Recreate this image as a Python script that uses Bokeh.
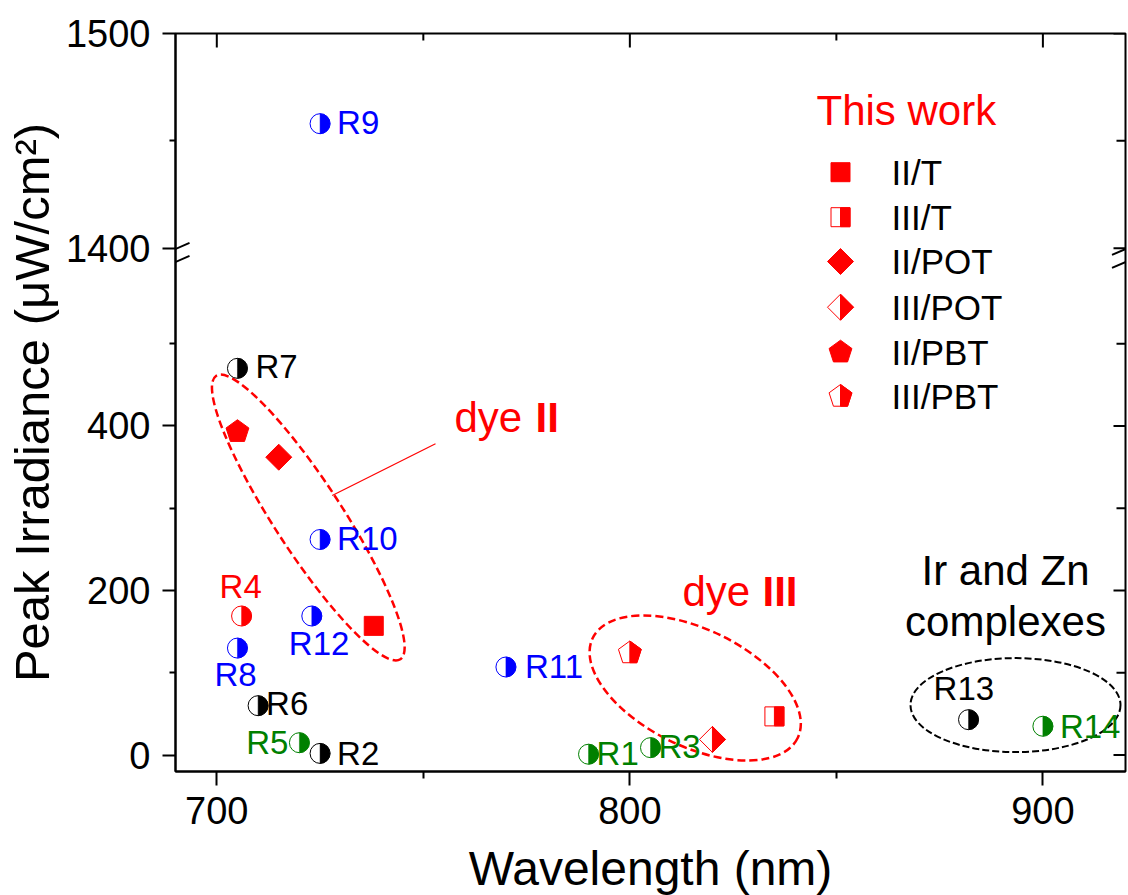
import math
from bokeh.plotting import figure
from bokeh.models import ColumnDataSource, FixedTicker, Range1d, Arrow
from bokeh.core.properties import value
from bokeh.embed import file_html
from bokeh.resources import INLINE

# ---------------- data ----------------
ref_labels = ["R1", "R2", "R3", "R4", "R5", "R6", "R7", "R8", "R9", "R10", "R11", "R12", "R13", "R14"]
ref_wavelength = [790, 725, 805, 706, 720, 710, 705, 705, 725, 725, 770, 723, 882, 900]
ref_irradiance = [1, 2, 9, 169, 15, 60, 470, 130, 1458, 262, 107, 169, 43, 35]
ref_colors = ["#008000", "#000000", "#008000", "#FF0000", "#008000", "#000000", "#000000",
              "#0000FF", "#0000FF", "#0000FF", "#0000FF", "#0000FF", "#000000", "#008000"]

work_labels = ["II/T", "III/T", "II/POT", "III/POT", "II/PBT", "III/PBT"]
work_wavelength = [738, 835, 715, 820, 705, 800]
work_irradiance = [157, 47, 362, 19, 393, 124]
work_shapes = ["square", "square", "diamond", "diamond", "pentagon", "pentagon"]
work_half = [False, True, False, True, False, True]

x_major_ticks = [700, 800, 900]
x_minor_ticks = [750, 850]
y_major_ticks = [0, 200, 400, 1400, 1500]
y_minor_ticks = [100, 300, 500, 1450]

# ---------------- layout constants ----------------
FONT = "Liberation Sans"
RED = "#FF0000"
X_START, X_END = 690, 920
BREAK_VALUE, BREAK_POS, UPPER_SCALE = 1400, 616, 2.61
FRAME_W, FRAME_H = 950, 738
FRAME_LEFT, FRAME_TOP = 175, 33  # position of the frame in the picture (px)
BASE_SHIFT = 0.36  # text baseline correction, in em


def yb(v):
    """broken-axis mapping: upper segment 1400..1500 is compressed above BREAK_POS"""
    if v < BREAK_VALUE:
        return v
    r = round(BREAK_POS + (v - BREAK_VALUE) * UPPER_SCALE, 3)
    return int(r) if r == int(r) else r


Y_START, Y_END = -20, yb(1500)
PXX = FRAME_W / (X_END - X_START)
PXY = FRAME_H / (Y_END - Y_START)


def px_x(px):
    return X_START + (px - FRAME_LEFT) / PXX


def px_y(py):
    return Y_END - (py - FRAME_TOP) / PXY


p = figure(frame_width=FRAME_W, frame_height=FRAME_H,
           x_range=Range1d(X_START, X_END), y_range=Range1d(Y_START, Y_END),
           output_backend="svg", toolbar_location=None,
           min_border_left=FRAME_LEFT, min_border_top=FRAME_TOP,
           min_border_right=3, min_border_bottom=124)
p.outline_line_color = "black"
p.outline_line_width = 2
p.xgrid.visible = False
p.ygrid.visible = False
p.background_fill_color = "white"
p.border_fill_color = "white"

xt = FixedTicker(ticks=x_major_ticks, minor_ticks=x_minor_ticks)
yt = FixedTicker(ticks=[yb(v) for v in y_major_ticks], minor_ticks=[yb(v) for v in y_minor_ticks])


def style_axis(ax):
    ax.axis_line_width = 2
    ax.axis_line_color = "black"
    ax.major_tick_line_width = 2
    ax.minor_tick_line_width = 2
    ax.major_tick_line_color = "black"
    ax.minor_tick_line_color = "black"
    ax.major_label_text_font = FONT
    ax.major_label_text_font_size = "38px"
    ax.major_label_text_color = "black"
    ax.axis_label_text_font = FONT
    ax.axis_label_text_font_size = "48px"
    ax.axis_label_text_font_style = "normal"
    ax.axis_label_text_color = "black"


xa = p.xaxis[0]
xa.ticker = xt
style_axis(xa)
xa.major_tick_out, xa.major_tick_in = 14, 0
xa.minor_tick_out, xa.minor_tick_in = 7, 0
xa.major_label_standoff = 11
xa.axis_label = "Wavelength (nm)"
xa.axis_label_standoff = 15

ya = p.yaxis[0]
ya.ticker = yt
style_axis(ya)
ya.axis_label_text_font_size = "49px"
ya.major_tick_out, ya.major_tick_in = 13, 0
ya.minor_tick_out, ya.minor_tick_in = 6, 0
ya.major_label_standoff = 12
ya.major_label_overrides = {yb(v): str(v) for v in y_major_ticks}
ya.axis_label = "Peak Irradiance (\u03bcW/cm\u00b2)"
ya.axis_label_standoff = 4

# mirrored inward ticks on the top and right frame edges
top_major = [(t, 14) for t in x_major_ticks] + [(t, 7) for t in x_minor_ticks]
p.segment(x0=[t for t, _ in top_major], y0=[Y_END] * len(top_major),
          x1=[t for t, _ in top_major], y1=[Y_END - L / PXY for _, L in top_major],
          line_color="black", line_width=2)
right_ticks = [(yb(v), 12) for v in y_major_ticks] + [(yb(v), 9) for v in y_minor_ticks]
p.segment(x0=[X_END] * len(right_ticks), y0=[t for t, _ in right_ticks],
          x1=[X_END - L / PXX for _, L in right_ticks], y1=[t for t, _ in right_ticks],
          line_color="black", line_width=2)

# ---------------- axis break marks ----------------
for ax_px in (FRAME_LEFT, FRAME_LEFT + FRAME_W):
    for cy in (248.5, 261.5):
        p.add_layout(Arrow(end=None, x_start=px_x(ax_px - 13.5), y_start=px_y(cy + 5.9),
                           x_end=px_x(ax_px + 14), y_end=px_y(cy - 6.1),
                           line_color="black", line_width=2))

# ---------------- annotations: ellipses, leader ----------------
ell_cx = [307.8, 694.7, 1015]
ell_cy = [517, 687.5, 704.6]
ell_w = [338, 228, 210]
ell_h = [68, 117, 94]
ell_ang = [-57, -26, 0]
ell_col = [RED, RED, "black"]
ell_dash = ["8 4", "8 4", "7 3"]
ell_lw = [2.5, 2.5, 2]
for i in range(3):
    p.ellipse(x=px_x(ell_cx[i]), y=px_y(ell_cy[i]), width=ell_w[i], height=ell_h[i],
              width_units="screen", height_units="screen", angle=math.radians(ell_ang[i]),
              fill_color=None, line_color=ell_col[i], line_dash=ell_dash[i], line_width=ell_lw[i])

p.line(x=[px_x(331.7), px_x(435)], y=[px_y(495), px_y(443.3)], line_color=RED, line_width=1.2)

# ---------------- reference points ----------------
REF_SIZE = 33
ref_label_dx = [8, 17, 8, -22, -11, 8, 18, -23, 17, 17, 19, -23, -35, 17]
ref_label_dy = [11, 12, 11, -18, 12, 10, 10, 38, 11, 11, 11, 39, -19, 12]   # baseline below marker
ref_label_align = ["left", "left", "left", "left", "right", "left", "left", "left",
                   "left", "left", "left", "left", "left", "left"]

ref_src = ColumnDataSource(dict(
    x=ref_wavelength, y=[yb(v) for v in ref_irradiance], c=ref_colors, t=ref_labels,
    dx=ref_label_dx, dy=[d - BASE_SHIFT * REF_SIZE for d in ref_label_dy], al=ref_label_align))

p.scatter(x="x", y="y", source=ref_src, marker="circle", size=20,
          fill_color="white", line_color="c", line_width=1)
p.wedge(x="x", y="y", source=ref_src, radius=10, radius_units="screen",
        start_angle=-math.pi / 2, end_angle=math.pi / 2,
        fill_color="c", line_color="c", line_width=0.5)
p.text(x="x", y="y", text="t", source=ref_src, x_offset="dx", y_offset="dy",
       text_align="al", text_baseline="alphabetic", text_color="c",
       text_font=value(FONT), text_font_size="%dpx" % REF_SIZE)


# ---------------- this work markers ----------------
def shape_pts(shape):
    if shape == "square":
        h = 9.5
        full = [(-h, -h), (h, -h), (h, h), (-h, h)]
        half = [(0, -h), (h, -h), (h, h), (0, h)]
    elif shape == "diamond":
        h = 13
        full = [(0, -h), (h, 0), (0, h), (-h, 0)]
        half = [(0, -h), (h, 0), (0, h)]
    else:
        R = 12
        full = [(R * math.cos(math.radians(a)), R * math.sin(math.radians(a)))
                for a in (-90, -18, 54, 126, 198)]
        half = [full[0], full[1], full[2], (0, full[2][1])]
    return full, half


def to_data(xc, yc, pts):
    return [xc + dx / PXX for dx, dy in pts], [yc - dy / PXY for dx, dy in pts]


open_xs, open_ys, fill_xs, fill_ys = [], [], [], []


def add_marker(xc, yc, shape, half):
    full, hpts = shape_pts(shape)
    if half:
        xs, ys = to_data(xc, yc, full)
        open_xs.append(xs)
        open_ys.append(ys)
        xs, ys = to_data(xc, yc, hpts)
    else:
        xs, ys = to_data(xc, yc, full)
    fill_xs.append(xs)
    fill_ys.append(ys)


for wl, irr, sh, hf in zip(work_wavelength, work_irradiance, work_shapes, work_half):
    add_marker(wl, yb(irr), sh, hf)

# legend (drawn by hand, rows at fixed pixel positions)
LEG_SIZE = 35
legend_rows_px = [171.7, 216.7, 261, 306.7, 351.7, 396]
for row, sh, hf in zip(legend_rows_px, work_shapes, work_half):
    add_marker(px_x(840), px_y(row), sh, hf)

p.patches(xs=open_xs, ys=open_ys, fill_color="white", line_color=RED, line_width=1)
p.patches(xs=fill_xs, ys=fill_ys, fill_color=RED, line_color=RED, line_width=1)

p.text(x=[px_x(891)] * len(work_labels), y=[px_y(r) for r in legend_rows_px], text=work_labels,
       y_offset=12.5 - BASE_SHIFT * LEG_SIZE, text_align="left", text_baseline="alphabetic",
       text_color="black", text_font=value(FONT), text_font_size="%dpx" % LEG_SIZE)


# ---------------- text annotations ----------------
def note(px, py, txt, color, size=42, style="normal", align="left"):
    p.text(x=[px_x(px)], y=[px_y(py - BASE_SHIFT * size)], text=[txt], text_align=align,
           text_baseline="alphabetic", text_color=color, text_font=value(FONT),
           text_font_size="%dpx" % size, text_font_style=style)


note(816, 125, "This work", RED)
note(454, 432, "dye", RED)
note(535, 432, "II", RED, style="bold")
note(682, 606, "dye", RED)
note(762, 606, "III", RED, style="bold")
note(1005, 585, "Ir and Zn", "black", align="center")
note(1005, 636, "complexes", "black", align="center")

open("out.html", "w").write(file_html(p, INLINE))
